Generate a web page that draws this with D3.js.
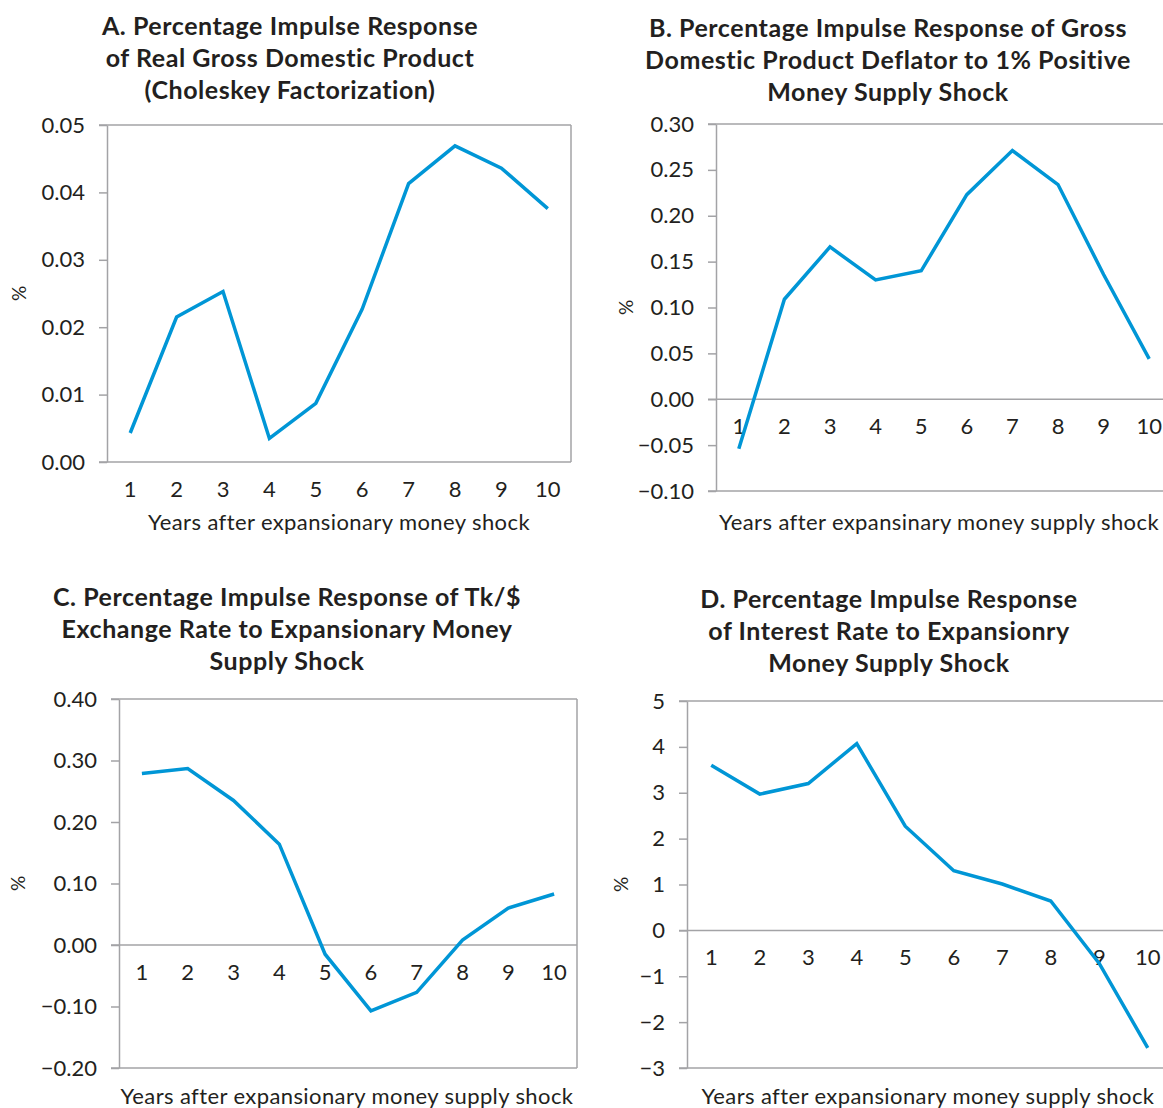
<!DOCTYPE html>
<html>
<head>
<meta charset="utf-8">
<script src="https://cdn.jsdelivr.net/npm/d3@7"></script>
<style>
  html, body { margin: 0; padding: 0; background: #fff; }
  svg { display: block; font-family: Lato, "Noto Sans", sans-serif; }
</style>
</head>
<body>
<svg id="chart" width="1163" height="1108"></svg>
<script>
// Years after the shock (category axis shared by all four panels)
const years = ["1", "2", "3", "4", "5", "6", "7", "8", "9", "10"];

// Impulse responses, in percent
const realGdp      = [0.0043, 0.0215, 0.0253, 0.0035, 0.0087, 0.0227, 0.0413, 0.0469, 0.0436, 0.0376];
const gdpDeflator  = [-0.054, 0.109, 0.166, 0.130, 0.140, 0.223, 0.271, 0.234, 0.136, 0.044];
const exchangeRate = [0.279, 0.287, 0.235, 0.164, -0.015, -0.107, -0.077, 0.008, 0.060, 0.083];
const interestRate = [3.60, 2.97, 3.20, 4.07, 2.27, 1.30, 1.01, 0.64, -0.72, -2.56];

// Y-axis ticks per panel
const ticksA = [0, 0.01, 0.02, 0.03, 0.04, 0.05];
const ticksB = [-0.10, -0.05, 0, 0.05, 0.10, 0.15, 0.20, 0.25, 0.30];
const ticksC = [-0.20, -0.10, 0, 0.10, 0.20, 0.30, 0.40];
const ticksD = [-3, -2, -1, 0, 1, 2, 3, 4, 5];

// Titles
const titleA = ["A. Percentage Impulse Response", "of Real Gross Domestic Product", "(Choleskey Factorization)"];
const titleB = ["B. Percentage Impulse Response of Gross", "Domestic Product Deflator to 1% Positive", "Money Supply Shock"];
const titleC = ["C. Percentage Impulse Response of Tk/$", "Exchange Rate to Expansionary Money", "Supply Shock"];
const titleD = ["D. Percentage Impulse Response", "of Interest Rate to Expansionry", "Money Supply Shock"];

const xTitleA = "Years after expansionary money shock";
const xTitleB = "Years after expansinary money supply shock";
const xTitleC = "Years after expansionary money supply shock";
const xTitleD = "Years after expansionary money supply shock";

const LINE_COLOR = "#0096d6";
const AXIS_COLOR = "#a3a3a6";
const TEXT_COLOR = "#231f20";

// Panel layout
const panels = [
  { values: realGdp, ticks: ticksA, fmt: ".2f", title: titleA, xTitle: xTitleA,
    left: 107, right: 571, top: 125, bottom: 462, titleX: 290, titleY: 25,
    xTitleX: 339, xTitleY: 521, pctX: 18 },
  { values: gdpDeflator, ticks: ticksB, fmt: ".2f", title: titleB, xTitle: xTitleB,
    left: 716, right: 1172, top: 124, bottom: 491, titleX: 888, titleY: 27,
    xTitleX: 939, xTitleY: 521, pctX: 625 },
  { values: exchangeRate, ticks: ticksC, fmt: ".2f", title: titleC, xTitle: xTitleC,
    left: 119, right: 577, top: 699, bottom: 1068, titleX: 287, titleY: 596,
    xTitleX: 347, xTitleY: 1095, pctX: 17 },
  { values: interestRate, ticks: ticksD, fmt: "d", title: titleD, xTitle: xTitleD,
    left: 687, right: 1172, top: 701, bottom: 1068, titleX: 889, titleY: 598,
    xTitleX: 928, xTitleY: 1095, pctX: 620 }
];

const svg = d3.select("#chart");

panels.forEach(p => {
  const g = svg.append("g");
  const x = d3.scaleBand().domain(years).range([p.left, p.right]);
  const y = d3.scaleLinear().domain(d3.extent(p.ticks)).range([p.bottom, p.top]);
  const cx = d => x(d) + x.bandwidth() / 2;
  const tickLen = 8;

  // Title
  g.append("text")
    .attr("x", p.titleX)
    .attr("y", p.titleY)
    .attr("text-anchor", "middle")
    .attr("dominant-baseline", "central")
    .attr("font-size", 25)
    .attr("font-weight", 700)
    .attr("letter-spacing", 0.55)
    .attr("fill", TEXT_COLOR)
    .selectAll("tspan")
    .data(p.title)
    .join("tspan")
      .attr("x", p.titleX)
      .attr("dy", (d, i) => i === 0 ? 0 : 32)
      .text(d => d);

  // Y axis with outward ticks
  const yAxis = d3.axisLeft(y)
    .tickValues(p.ticks)
    .tickFormat(d3.format(p.fmt))
    .tickSize(tickLen)
    .tickSizeOuter(0)
    .tickPadding(14);
  const ya = g.append("g").attr("transform", `translate(${p.left},0)`).call(yAxis);
  ya.select(".domain").attr("stroke", AXIS_COLOR).attr("stroke-width", 1.5);
  ya.selectAll(".tick line").attr("stroke", AXIS_COLOR).attr("stroke-width", 1.5);
  ya.selectAll(".tick text")
    .attr("font-size", 22)
    .attr("font-weight", 400)
    .attr("fill", TEXT_COLOR)
    .attr("font-family", "Lato, sans-serif");

  // Frame lines: top, bottom, zero line and right edge
  const hLines = Array.from(new Set([y.domain()[0], y.domain()[1], 0]));
  g.selectAll("line.h")
    .data(hLines)
    .join("line")
      .attr("x1", p.left - tickLen)
      .attr("x2", p.right)
      .attr("y1", d => y(d))
      .attr("y2", d => y(d))
      .attr("stroke", AXIS_COLOR)
      .attr("stroke-width", 1.5);
  g.append("line")
    .attr("x1", p.right).attr("x2", p.right)
    .attr("y1", p.top).attr("y2", p.bottom)
    .attr("stroke", AXIS_COLOR)
    .attr("stroke-width", 1.5);

  // Category labels, hanging below the zero line
  const xAxis = d3.axisBottom(x).tickSize(0).tickPadding(0);
  const xa = g.append("g").attr("transform", `translate(0,${y(0)})`).call(xAxis);
  xa.select(".domain").remove();
  xa.selectAll(".tick text")
    .attr("y", 27)
    .attr("dy", "0.35em")
    .attr("font-size", 22)
    .attr("font-weight", 400)
    .attr("fill", TEXT_COLOR)
    .attr("font-family", "Lato, sans-serif");

  // X-axis title
  g.append("text")
    .attr("x", p.xTitleX)
    .attr("y", p.xTitleY)
    .attr("text-anchor", "middle")
    .attr("dominant-baseline", "central")
    .attr("font-size", 22)
    .attr("font-weight", 400)
    .attr("letter-spacing", 0.4)
    .attr("fill", TEXT_COLOR)
    .text(p.xTitle);

  // Y-axis unit label
  const midY = (p.top + p.bottom) / 2;
  g.append("text")
    .attr("transform", `translate(${p.pctX},${midY}) rotate(-90)`)
    .attr("text-anchor", "middle")
    .attr("dominant-baseline", "central")
    .attr("font-size", 19)
    .attr("fill", TEXT_COLOR)
    .text("%");

  // Response line
  const line = d3.line()
    .x((d, i) => cx(years[i]))
    .y(d => y(d));
  g.append("path")
    .datum(p.values)
    .attr("d", line)
    .attr("fill", "none")
    .attr("stroke", LINE_COLOR)
    .attr("stroke-width", 3.5)
    .attr("stroke-linejoin", "miter");
});
</script>
</body>
</html>
